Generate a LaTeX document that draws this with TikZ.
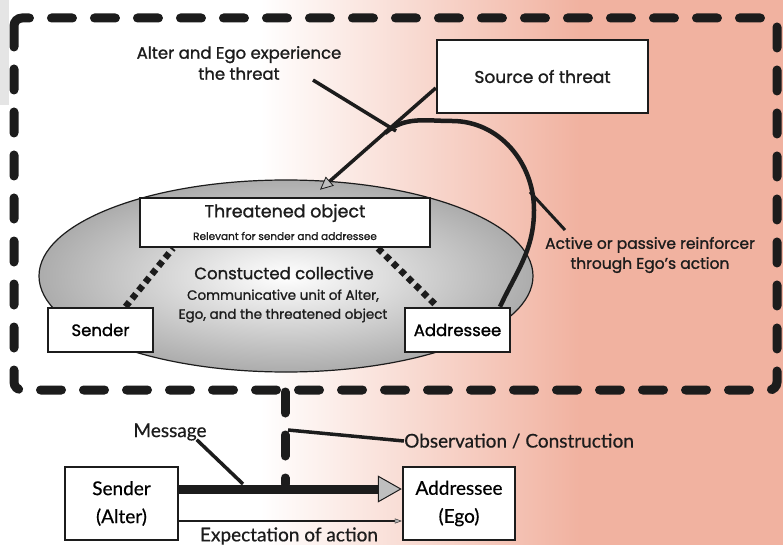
\documentclass[tikz,border=0pt]{standalone}
\usepackage{fontspec}
\setmainfont{Poppins}[FakeBold=1.2]
\newfontfamily\lowfont{Lato}[FakeBold=0.5]
\usetikzlibrary{arrows.meta,shapes.geometric}
\definecolor{salmon}{RGB}{241,178,160}
\definecolor{ink}{RGB}{28,28,28}
\newcommand\fsz[2]{\fontsize{#1}{#2}\selectfont}
\tikzset{
  box/.style={draw=ink, line width=2.5pt, fill=white, inner sep=0pt},
  frame/.style={draw=ink, line width=9pt, line cap=round, dash pattern=on 21pt off 22pt},
  pointer/.style={draw=ink, line width=3.5pt},
  dots/.style={draw=ink, line width=6.5pt, dash pattern=on 6pt off 4.5pt},
  bigtip/.style={-{Triangle[length=24pt, width=27pt, fill=gray!50, line width=1pt]}},
  smalltip/.style={-{Triangle[length=13pt, width=12pt, fill=gray!50, line width=0.8pt]}},
  thintip/.style={-{Triangle[length=7pt, width=5pt, fill=gray!60, line width=0.4pt]}},
  label/.style={text=ink, align=center, inner sep=0pt},
}
\begin{document}
\begin{tikzpicture}[x=1pt, y=-1pt]
    \useasboundingbox (0,0) rectangle (783,545);
    % background
    \fill[white] (0,0) rectangle (260,545);
    \shade[left color=white, right color=salmon] (260,0) rectangle (580,545);
    \fill[salmon] (580,0) rectangle (783,545);
    \fill[gray!20] (0,0) rectangle (9,105);
    % frame
    \draw[frame, rounded corners=8pt] (14,18) rectangle (777,390);
    \draw[frame] (285,392) -- (285,484);
    % collective
    \node[ellipse, draw=ink, line width=1.2pt, inner color=white, outer color=gray!65,
          minimum width=494, minimum height=192] (coll) at (286,276) {};
    \node[label, font=\fsz{16.5}{19}] (colt) at (284,273) {Constucted collective};
    \node[label, font=\fsz{13.5}{19}] (cols) at (283,306) {Communicative unit of Alter,\\Ego, and the threatened object};
    % boxes
    \node[box, minimum width=211, minimum height=73] (src) at (542.5,76.5) {};
    \node[label, font=\fsz{17}{20}] (srct) at (src) {Source of threat};
    \node[box, minimum width=290, minimum height=49] (thr) at (285,222.5) {};
    \node[label, font=\fsz{17.5}{20}] (thrt) at (285,213) {Threatened object};
    \node[label, font=\fsz{10.5}{12}] (thrs) at (285,236) {Relevant for sender and addressee};
    \node[box, minimum width=105, minimum height=44, font=\fsz{16.5}{19}] (sendt) at (100.5,330) {Sender};
    \node[box, minimum width=105, minimum height=44, font=\fsz{16.5}{19}] (addt) at (457.5,330) {Addressee};
    % labels
    \node[label, font=\fsz{16.5}{21}] (alter) at (239,63) {Alter and Ego experience\\the threat};
    \node[label, font=\fsz{15.5}{20}] (reinf) at (650,255) {Active or passive reinforcer\\through Ego’s action};
    % lines
    \coordinate (cross) at (385,133);
    \coordinate (altend) at (396,131);
    \coordinate (rfpt) at (530,192);
    \coordinate (rfend) at (565,230);
    \draw[pointer] ([xshift=74pt]alter.south) -- (altend);
    \draw[pointer, smalltip] ([yshift=-11.5pt]src.west) -- ([xshift=35pt,yshift=7pt]thr.north);
    \draw[draw=ink, line width=4.5pt] ([xshift=42.5pt]addt.north) to[out=65,in=-90] (534,210)
        to[out=90,in=0] (452,121) to[out=180,in=40] (cross);
    \draw[draw=ink, line width=3pt] (rfpt) -- (rfend);
    \draw[dots] ([xshift=25pt]sendt.north) -- ([xshift=-112pt]thr.south);
    \draw[dots] ([xshift=93pt]thr.south) -- ([xshift=-20pt]addt.north);
    % lower part
    \begin{scope}[every node/.append style={font=\lowfont\fsz{19}{28}}]
    \node[box, minimum width=113, minimum height=73, align=center] (sendb) at (121.5,503.5) {Sender\\(Alter)};
    \node[box, minimum width=112, minimum height=73, align=center] (addrb) at (459,503.5) {Addressee\\(Ego)};
    \node[label] (msg) at (170,432) {Message};
    \node[label, anchor=west] (obs) at (404,441) {Observation / Construction};
    \node[label] (expect) at (289,536) {Expectation of action};
    \end{scope}
    \coordinate (msgend) at (243,484);
    \coordinate (obspt) at (288,430);
    \draw[draw=ink, line width=9pt, bigtip] ([yshift=14.5pt]sendb.east) -- ([yshift=14.5pt]addrb.west);
    \draw[draw=ink, line width=1.2pt, thintip] ([yshift=-17.5pt]sendb.east) -- ([yshift=-17.5pt]addrb.west);
    \draw[pointer] ([xshift=-10pt,yshift=1pt]msg.south east) -- (msgend);
    \draw[pointer] (obspt) -- (obs.west);
\end{tikzpicture}
\end{document}
